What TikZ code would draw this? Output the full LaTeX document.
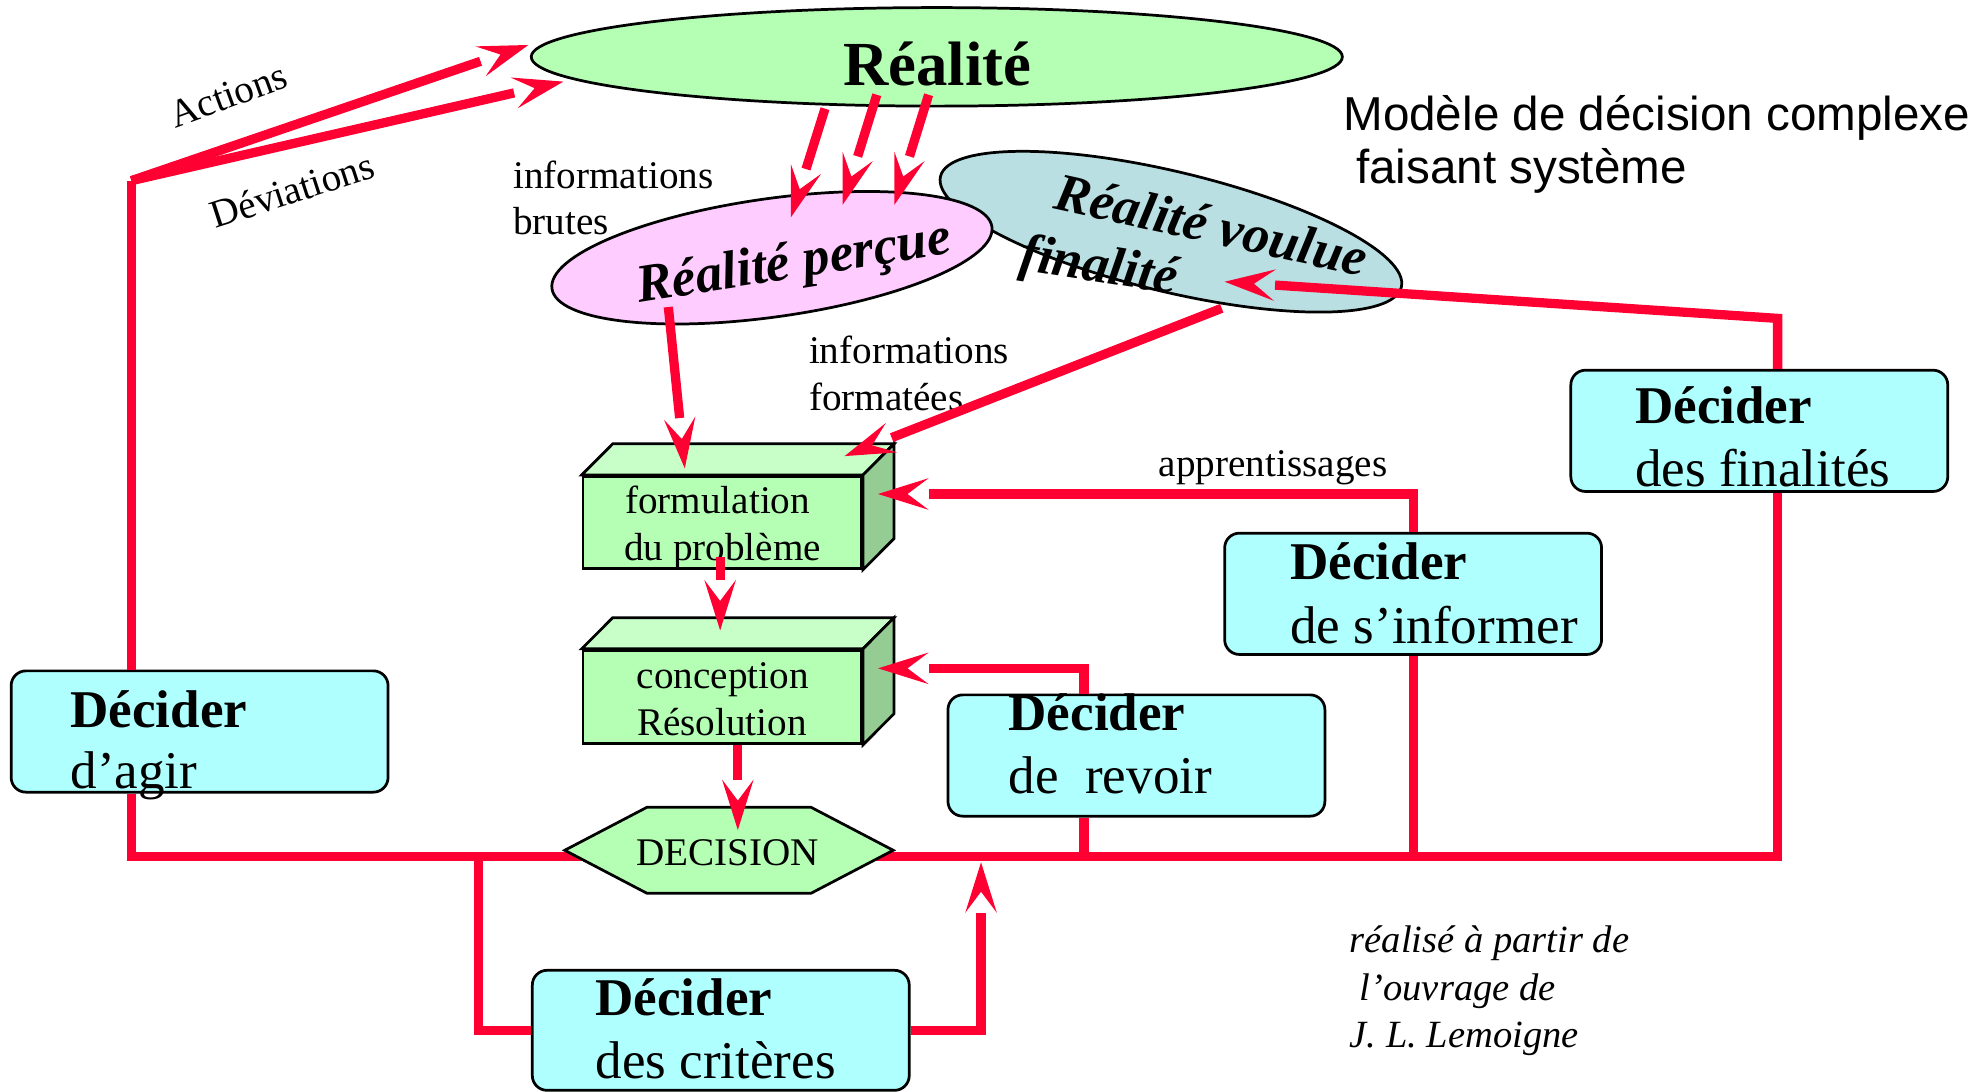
\documentclass[tikz,border=0pt]{standalone}
\usepackage{fontspec}
\setmainfont{Liberation Serif}
\setsansfont{Liberation Sans}
\usetikzlibrary{arrows.meta,shapes.geometric,backgrounds}
\definecolor{rl}{RGB}{255,0,51}
\definecolor{gfill}{RGB}{181,255,181}
\definecolor{gtop}{RGB}{200,255,200}
\definecolor{gside}{RGB}{148,204,148}
\definecolor{cfill}{RGB}{175,255,255}
\definecolor{pfill}{RGB}{255,204,255}
\definecolor{vfill}{RGB}{185,223,227}
\pgfdeclarearrow{
  name = Gap,
  setup code = {
    \pgfarrowssettipend{0pt}
    \pgfarrowssetlineend{-24pt}
    \pgfarrowssetbackend{-24pt}
    \pgfarrowshullpoint{0pt}{0pt}
    \pgfarrowsupperhullpoint{-24pt}{7.5pt}
  },
  drawing code = {
    \pgfsetfillcolor{rl}
    \pgfpathmoveto{\pgfqpoint{0pt}{0pt}}
    \pgfpathlineto{\pgfqpoint{-24pt}{7.5pt}}
    \pgfpathlineto{\pgfqpoint{-14pt}{0pt}}
    \pgfpathlineto{\pgfqpoint{-24pt}{-7.5pt}}
    \pgfpathclose
    \pgfusepathqfill
  },
}
\begin{document}
\begin{tikzpicture}[x=0.6pt,y=-0.6pt,
  link/.style={draw=rl,line width=4.4pt},
  arr/.style={link,-Gap},
  edgeone/.style={draw=black,line width=1.3pt},
  decider/.style={edgeone,fill=cfill,rounded corners=7pt,minimum width=179pt,minimum height=57.6pt,inner sep=0pt},
  frontface/.style={edgeone,fill=gfill,minimum width=132.3pt,inner sep=0pt},
  txt/.style={inner sep=0pt,anchor=base},
  ltxt/.style={inner sep=0pt,anchor=base west},
  stxt/.style={font=\fontsize{18.6pt}{22pt}\selectfont},
  dbig/.style={ltxt,font=\fontsize{25.2pt}{30pt}\selectfont\bfseries},
  dsub/.style={ltxt,font=\fontsize{25.2pt}{30pt}\selectfont},
  oval/.style={ellipse,edgeone,inner sep=0pt},
  ovtxt/.style={txt,font=\fontsize{25.5pt}{30pt}\selectfont\bfseries\itshape},
]
\useasboundingbox (0,0) rectangle (1568,864);

% ---------- ellipses ----------
\node[oval,fill=gfill,minimum width=385.2pt,minimum height=46.8pt] (real) at (741.5,45) {};
\node[oval,fill=vfill,rotate=-13.5,minimum width=225.1pt,minimum height=57pt] (voul) at (926.8,183.4) {};
\node[oval,fill=pfill,rotate=8,minimum width=211pt,minimum height=56.2pt] (perc) at (611,204) {};

\node[txt,font=\fontsize{29.8pt}{36pt}\selectfont\bfseries] (realT) at (742,68) {Réalité};
\node[ovtxt,rotate=9] (percT) at (630,220) {Réalité perçue};
\node[ovtxt,rotate=-12.4] (voulT) at (955.7,192) {Réalité voulue};
\node[ovtxt,rotate=-9] (finT) at (868,223) {finalité};

% ---------- title and labels ----------
\node[ltxt,font=\sffamily\fontsize{22.6pt}{27pt}\selectfont] (t1) at (1063,103) {Modèle de décision complexe};
\node[ltxt,font=\sffamily\fontsize{22.6pt}{27pt}\selectfont] (t2) at (1073,145) {faisant système};

\node[ltxt,stxt] (ib1) at (406,149) {informations};
\node[ltxt,stxt] (ib2) at (406,186) {brutes};
\node[ltxt,stxt] (if1) at (640,288) {informations};
\node[ltxt,stxt] (if2) at (640,325) {formatées};
\node[ltxt,stxt] (app) at (917,377) {apprentissages};
\node[txt,stxt,rotate=20] (act) at (184,85) {Actions};
\node[txt,stxt,rotate=18] (dev) at (234.5,160.5) {Déviations};

\node[ltxt,font=\fontsize{18.3pt}{22pt}\selectfont\itshape] (cr1) at (1068,754) {réalisé à partir de};
\node[ltxt,font=\fontsize{18.3pt}{22pt}\selectfont\itshape] (cr2) at (1076,792) {l’ouvrage de};
\node[ltxt,font=\fontsize{18.3pt}{22pt}\selectfont\itshape] (cr3) at (1068,829) {J. L. Lemoigne};

% ---------- 3D blocks ----------
\node[frontface,minimum height=43.7pt] (form) at (571.8,413.4) {};
\draw[edgeone,fill=gtop] (form.north west) -- ++(24.5,-24.6) -- ([shift={(24.5,-24.6)}]form.north east) -- (form.north east) -- cycle;
\draw[edgeone,fill=gside] (form.north east) -- ++(24.5,-24.6) -- ([shift={(24.5,-24.6)}]form.south east) -- (form.south east) -- cycle;
\node[txt,stxt] (formT1) at (568,406.3) {formulation};
\node[txt,stxt] (formT2) at (572,443.3) {du problème};

\node[frontface,minimum height=44.3pt] (conc) at (571.8,551.5) {};
\draw[edgeone,fill=gtop] (conc.north west) -- ++(24.5,-24.6) -- ([shift={(24.5,-24.6)}]conc.north east) -- (conc.north east) -- cycle;
\draw[edgeone,fill=gside] (conc.north east) -- ++(24.5,-24.6) -- ([shift={(24.5,-24.6)}]conc.south east) -- (conc.south east) -- cycle;
\node[txt,stxt] (concT1) at (572,544.8) {conception};
\node[txt,stxt] (concT2) at (571.5,581.8) {Résolution};

% ---------- DECISION hexagon ----------
\coordinate (hW) at (447,673);
\coordinate (hE) at (707,673);
\draw[edgeone,fill=gfill] (hW) -- (512,639) -- (642,639) -- (hE) -- (642,707) -- (512,707) -- cycle;
\node[txt,stxt] (dec) at (576,684.7) {DECISION};

% ---------- decision boxes ----------
\node[decider] (agir) at (158,579) {};
\node[dbig] (agirT) at (55.5,576) {Décider};
\node[dsub] (agirS) at (55.5,624) {d’agir};

\node[decider,minimum height=57pt] (crit) at (570.5,815.5) {};
\node[dbig] (critT) at (471,804) {Décider};
\node[dsub] (critS) at (471,854) {des critères};

\node[decider] (revoir) at (899.5,598) {};
\node[dbig] (revT) at (798,578.5) {Décider};
\node[dsub] (revS) at (798,628) {de~~revoir};

\node[decider] (inf) at (1118.5,470) {};
\node[dbig] (infT) at (1021,459) {Décider};
\node[dsub] (infS) at (1021,509) {de s’informer};

\node[decider] (fin) at (1392.5,341) {};
\node[dbig] (finT) at (1294,335) {Décider};
\node[dsub] (finS) at (1294,385) {des finalités};

% ---------- connector points ----------
\coordinate (cTL) at (104,143);
\coordinate (cBL) at (104,678);
\coordinate (cBR) at (1407,678);
\coordinate (cTR) at (1407,252);
\coordinate (aTip) at (418.2,35.6);
\coordinate (dTip) at (445.9,64.6);
\coordinate (vTip) at (969.3,223);
\coordinate (iB) at (1119,678);
\coordinate (iC) at (1119,391);
\coordinate (appTip) at (695,391);
\coordinate (rB) at (858,678);
\coordinate (rC) at (858,529);
\coordinate (revTip) at (695,529);
\coordinate (kA) at (378.5,678);
\coordinate (kB) at (378.5,815.5);
\coordinate (kC) at (776.5,815.5);
\coordinate (kTip) at (776.5,682.5);
\coordinate (r1s) at (653,86);
\coordinate (r1t) at (626,172);
\coordinate (r2s) at (694,75);
\coordinate (r2t) at (667,162);
\coordinate (r3s) at (735,75);
\coordinate (r3t) at (708,162);
\coordinate (pS) at (529,243);
\coordinate (pT) at (542,370.7);
\coordinate (vS) at (967,244);
\coordinate (vT) at (668.5,361);
\coordinate (fS) at (570,441);
\coordinate (fT) at (570,499);
\coordinate (cS) at (584,590);
\coordinate (cT) at (584,657);

% ---------- connectors ----------
\begin{scope}[on background layer]
  \fill[white] (0,0) rectangle (1568,864);
  \draw[link] (agir.south -| cBL) -- (cBL) -- (cBR) -- (fin.south -| cBR);
\end{scope}
\draw[link] (cTL) -- (agir.north -| cTL);
\draw[arr] (cTL) -- (aTip);
\draw[arr] (cTL) -- (dTip);
\draw[arr] (fin.north -| cTR) -- (cTR) -- (vTip);
\draw[link] (iB) -- (inf.south -| iB);
\draw[arr] (inf.north -| iB) -- (iC) -- (appTip);
\draw[link] (rB) -- (revoir.south -| rB);
\draw[arr] (revoir.north -| rB) -- (rC) -- (revTip);
\draw[link] (kA) -- (kB) -- (crit.west |- kB);
\draw[arr] (crit.east |- kB) -- (kC) -- (kTip);
\draw[arr] (r1s) -- (r1t);
\draw[arr] (r2s) -- (r2t);
\draw[arr] (r3s) -- (r3t);
\draw[arr] (pS) -- (pT);
\draw[arr] (vS) -- (vT);
\draw[arr] (fS) -- (fT);
\draw[arr] (cS) -- (cT);
\end{tikzpicture}
\end{document}
